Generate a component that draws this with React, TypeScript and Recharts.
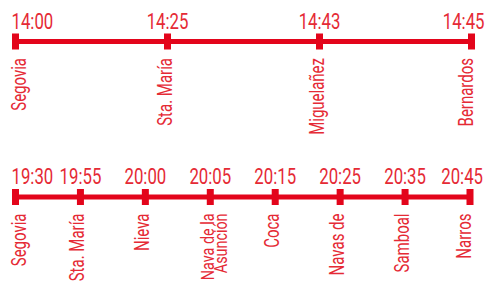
import { LabelList, Line, LineChart, XAxis, YAxis } from 'recharts'

// Horarios de las dos expediciones: paradas, horas y nivel de la linea
const morningStops = ['Segovia', 'Sta. María', 'Miguelañez', 'Bernardos']
const morningTimes = ['14:00', '14:25', '14:43', '14:45']
const eveningStops = [
  'Segovia',
  'Sta. María',
  'Nieva',
  'Nava de la\nAsunción',
  'Coca',
  'Navas de',
  'Samboal',
  'Narros',
]
const eveningTimes = ['19:30', '19:55', '20:00', '20:05', '20:15', '20:25', '20:35', '20:45']
const routeLevel = 1

const LINE_RED = '#e3051b'
const TEXT_RED = '#e52a35'
const FONT = 'Roboto, "DejaVu Sans", sans-serif'

function buildRows(stops: string[], times: string[]) {
  return stops.map((stop, i) => ({ stop, time: times[i], level: routeLevel }))
}

function Marker(props: any) {
  const { cx, cy, index } = props
  if (cx == null || cy == null) return null
  return <rect key={`m-${index}`} x={cx - 3.5} y={cy - 8} width={7} height={16} fill={LINE_RED} />
}

function makeTimeLabel(count: number) {
  return function TimeLabel(props: any) {
    const { x, y, value, index } = props
    let tx = Number(x)
    let anchor: 'start' | 'middle' | 'end' = 'middle'
    if (index === 0) {
      tx -= 4
      anchor = 'start'
    } else if (index === count - 1) {
      tx += 13
      anchor = 'end'
    }
    return (
      <text
        transform={`translate(${tx},${Number(y) - 13}) scale(0.78,1)`}
        textAnchor={anchor}
        fontFamily={FONT}
        fontSize={21.5}
        fill={TEXT_RED}
      >
        {value}
      </text>
    )
  }
}

function makeStopLabel(count: number) {
  return function StopLabel(props: any) {
    const { x, y, value, index } = props
    const lines = String(value).split('\n')
    const multi = lines.length > 1
    let bx = Number(x) + 4
    if (index === 0) bx = Number(x) + 10
    else if (index === count - 1) bx = Number(x) + 1
    return (
      <g>
        {lines.map((ln, i) => (
          <text
            key={i}
            transform={`translate(${bx + i * 13},${Number(y) + 16.5}) rotate(-90) scale(${multi ? 0.82 : 0.75},1)`}
            textAnchor="end"
            fontFamily={FONT}
            fontSize={multi ? 17.5 : 20}
            fill={TEXT_RED}
          >
            {ln}
          </text>
        ))}
      </g>
    )
  }
}

function RouteRow({
  stops,
  times,
  height,
  margin,
}: {
  stops: string[]
  times: string[]
  height: number
  margin: { top: number; right: number; bottom: number; left: number }
}) {
  const data = buildRows(stops, times)
  return (
    <LineChart width={492} height={height} data={data} margin={margin}>
      <XAxis dataKey="stop" type="category" scale="point" hide />
      <YAxis domain={[0, 1]} hide />
      <Line
        dataKey="level"
        stroke={LINE_RED}
        strokeWidth={5}
        strokeLinecap="butt"
        dot={Marker}
        activeDot={false}
        isAnimationActive={false}
      >
        <LabelList dataKey="time" content={makeTimeLabel(data.length)} />
        <LabelList dataKey="stop" content={makeStopLabel(data.length)} />
      </Line>
    </LineChart>
  )
}

export default function App() {
  return (
    <div
      style={{
        position: 'absolute',
        left: 0,
        top: 0,
        width: 492,
        height: 287,
        background: '#fff',
      }}
    >
      <div style={{ position: 'absolute', left: 0, top: 0 }}>
        <RouteRow
          stops={morningStops}
          times={morningTimes}
          height={145}
          margin={{ top: 41.5, right: 20.5, bottom: 20, left: 15.5 }}
        />
      </div>
      <div style={{ position: 'absolute', left: 0, top: 150 }}>
        <RouteRow
          stops={eveningStops}
          times={eveningTimes}
          height={137}
          margin={{ top: 47, right: 22, bottom: 20, left: 15.5 }}
        />
      </div>
    </div>
  )
}
